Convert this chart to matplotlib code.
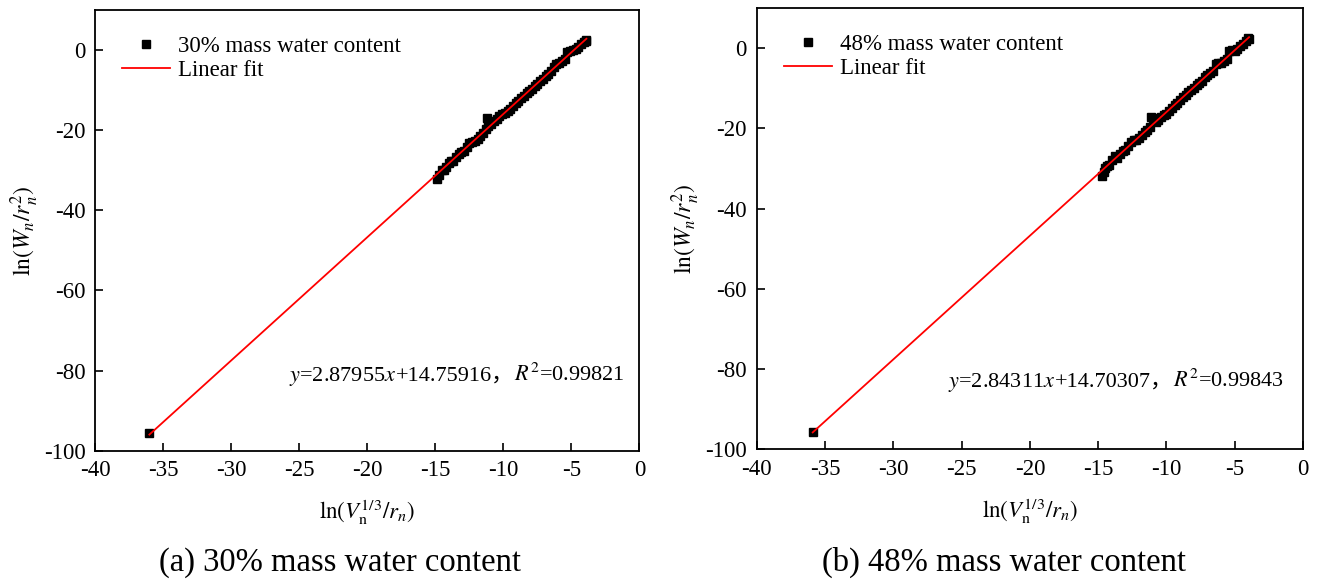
import matplotlib.pyplot as plt
import numpy as np
from matplotlib.offsetbox import AnnotationBbox, HPacker, TextArea

plt.rcParams["font.family"] = ["Liberation Serif", "Noto Sans CJK SC"]
plt.rcParams["mathtext.fontset"] = "stix"
plt.rcParams["axes.unicode_minus"] = False

# 30% mass water content
x30 = [-36.03, -14.85, -14.7, -14.55, -14.4, -14.2, -14.0, -13.85, -13.7, -13.5,
       -13.3, -13.1, -12.9, -12.7, -12.5, -12.3, -12.1, -11.9, -11.7, -11.5,
       -11.3, -11.2, -11.1, -10.9, -10.7, -10.5, -10.3, -10.1, -9.9, -9.7,
       -9.5, -9.3, -9.1, -8.9, -8.7, -8.5, -8.3, -8.1, -7.9, -7.7,
       -7.5, -7.3, -7.1, -6.9, -6.7, -6.5, -6.3, -6.1, -5.9, -5.7,
       -5.5, -5.3, -5.1, -4.9, -4.7, -4.5, -4.3, -4.1, -3.95, -3.9]
y30 = [-95.6, -32.3, -31.2, -30.0, -29.9, -29.3, -28.2, -27.6, -27.8, -26.6,
       -26.0, -25.4, -25.1, -24.2, -23.3, -22.9, -22.6, -22.2, -21.4, -20.6,
       -19.6, -16.9, -19.0, -18.4, -17.8, -17.1, -16.5, -16.0, -15.6, -15.1,
       -14.6, -14.0, -13.3, -12.6, -12.0, -11.4, -10.8, -10.2, -9.7, -9.0,
       -8.4, -7.8, -7.1, -6.5, -5.9, -5.3, -4.2, -3.4, -3.3, -2.8,
       -2.2, -0.6, -0.3, -0.1, 0.2, 0.8, 1.4, 2.0, 2.6, 2.3]

# 48% mass water content
x48 = [-35.9, -14.7, -14.6, -14.5, -14.35, -14.2, -14.0, -13.8, -13.6, -13.4,
       -13.2, -13.0, -12.8, -12.6, -12.4, -12.2, -12.0, -11.8, -11.6, -11.4,
       -11.2, -11.1, -10.95, -10.8, -10.6, -10.4, -10.2, -10.0, -9.8, -9.6,
       -9.4, -9.2, -9.0, -8.8, -8.6, -8.4, -8.2, -8.0, -7.8, -7.6,
       -7.4, -7.2, -7.0, -6.8, -6.6, -6.4, -6.2, -6.0, -5.8, -5.6,
       -5.4, -5.2, -5.0, -4.8, -4.6, -4.4, -4.2, -4.0, -3.95]
y48 = [-95.6, -32.0, -31.0, -29.8, -29.5, -29.2, -28.0, -27.0, -27.4, -26.5,
       -25.6, -25.3, -24.4, -23.5, -23.0, -22.9, -22.3, -21.7, -20.9, -20.3,
       -19.6, -17.1, -17.3, -18.5, -18.0, -17.2, -16.7, -16.3, -15.6, -14.9,
       -14.1, -13.6, -13.0, -12.3, -11.7, -11.0, -10.5, -9.9, -9.3, -8.7,
       -8.1, -7.3, -6.8, -6.2, -5.6, -4.0, -3.7, -3.6, -3.1, -2.6,
       -0.8, -0.5, -0.6, -0.2, 0.5, 1.1, 1.7, 2.6, 2.2]

labels = ["30% mass water content", "48% mass water content"]
captions = ["(a) 30% mass water content", "(b) 48% mass water content"]
# fit equations, split so the full-width comma can use the CJK font
equations = [(r"$y$=2.87955$x$", "+14.75916，", r"$R^2$=0.99821"),
             (r"$y$=2.84311$x$", "+14.70307，", r"$R^2$=0.99843")]
eq_pos = [(-25.8, -81.3), (-26.0, -83.2)]
cap_x = [0.258, 0.761]

fig = plt.figure(figsize=(13.19, 5.79), dpi=100)
axes = [fig.add_axes([0.0723, 0.2216, 0.4125, 0.7611]),
        fig.add_axes([0.5737, 0.2240, 0.4142, 0.7622])]

for i, ax in enumerate(axes):
    xs = np.array([x30, x48][i])
    ys = np.array([y30, y48][i])
    ax.plot(xs, ys, "s", color="black", markersize=5.2, label=labels[i],
            zorder=2)

    # least-squares line over the data range
    k, b = np.polyfit(xs, ys, 1)
    xf = np.array([xs.min(), xs.max()])
    ax.plot(xf, k * xf + b, color="red", lw=1.3, label="Linear fit", zorder=3)

    ax.set_xlim(-40, 0)
    ax.set_ylim(-100, 10)
    ax.set_xticks(np.arange(-40, 1, 5))
    ax.set_yticks(np.arange(-100, 1, 20))
    ax.tick_params(direction="in", length=6, width=1.2, labelsize=16.5,
                   pad=7)
    for s in ax.spines.values():
        s.set_linewidth(1.3)

    ax.set_xlabel(r"$\mathrm{ln}(V_\mathrm{n}^{1/3}/r_n)$", fontsize=16.5,
                  labelpad=12)
    ax.set_ylabel(r"$\mathrm{ln}(W_n/r_n^2)$", fontsize=17, labelpad=2)

    parts = [TextArea(equations[i][0], textprops=dict(fontsize=16)),
             TextArea(equations[i][1], textprops=dict(fontsize=16)),
             TextArea(equations[i][2], textprops=dict(fontsize=16))]
    box = HPacker(children=parts, align="baseline", pad=0, sep=0)
    ax.add_artist(AnnotationBbox(box, eq_pos[i], xycoords="data",
                                 box_alignment=(0, 0.5), frameon=False,
                                 pad=0))

    ax.legend(loc="upper left", bbox_to_anchor=(0.02, 0.978), frameon=False,
              fontsize=16.5, handlelength=2.1, handletextpad=0.35,
              labelspacing=0.12, borderaxespad=0.3)

    fig.text(cap_x[i], 0.029, captions[i], fontsize=23.5, ha="center",
             va="center")

fig.savefig("out.png", dpi=100)
